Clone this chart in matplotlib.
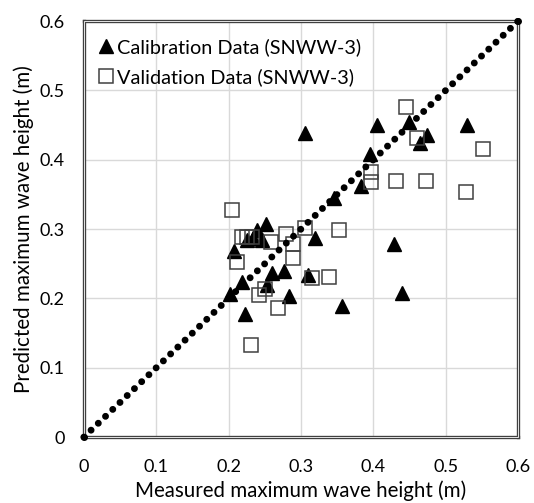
import matplotlib
matplotlib.use('Agg')
import matplotlib.pyplot as plt
from matplotlib.patches import Rectangle

plt.rcParams['font.family'] = ['Lato', 'DejaVu Sans']

# calibration data (SNWW-3) - triangles
cal_x = [0.202, 0.207, 0.218, 0.223, 0.225, 0.234, 0.239, 0.246, 0.252, 0.253,
         0.260, 0.277, 0.284, 0.306, 0.310, 0.320, 0.346, 0.357, 0.383, 0.396,
         0.405, 0.428, 0.440, 0.449, 0.465, 0.474, 0.529]
cal_y = [0.206, 0.268, 0.224, 0.178, 0.284, 0.287, 0.299, 0.284, 0.308, 0.219,
         0.236, 0.240, 0.204, 0.438, 0.234, 0.287, 0.345, 0.189, 0.362, 0.409,
         0.450, 0.279, 0.208, 0.455, 0.424, 0.436, 0.450]

# validation data (SNWW-3) - squares
val_x = [0.205, 0.212, 0.218, 0.226, 0.233, 0.231, 0.242, 0.250, 0.259, 0.269,
         0.279, 0.289, 0.289, 0.306, 0.315, 0.339, 0.353, 0.397, 0.397, 0.432,
         0.445, 0.460, 0.473, 0.528, 0.552]
val_y = [0.327, 0.253, 0.288, 0.288, 0.288, 0.133, 0.205, 0.213, 0.282, 0.186,
         0.293, 0.279, 0.259, 0.302, 0.230, 0.231, 0.299, 0.383, 0.368, 0.370,
         0.476, 0.432, 0.370, 0.354, 0.415]

# 1:1 line
line_x = [0, 0.6]
line_y = [0, 0.6]

ticks = [0, 0.1, 0.2, 0.3, 0.4, 0.5, 0.6]
tick_labels = ['0', '0.1', '0.2', '0.3', '0.4', '0.5', '0.6']

fig = plt.figure(figsize=(5.34, 5.03), dpi=100)
ax = fig.add_axes([0.157, 0.131, 0.813, 0.827])

lw = 5.0
ax.plot(line_x, line_y, color='black', lw=lw,
        linestyle=(0, (0.001, 7.21 / lw - 0.001)),
        dash_capstyle='round', zorder=6, clip_on=False,
        marker='o', markersize=5.0, markeredgewidth=0)

ax.plot(cal_x, cal_y, linestyle='none', marker='^', markersize=10,
        color='black', label='Calibration Data (SNWW-3)', zorder=4)
ax.plot(val_x, val_y, linestyle='none', marker='s', markersize=9.5,
        markerfacecolor='none', markeredgecolor='#404040', markeredgewidth=1.1,
        label='Validation Data (SNWW-3)', zorder=4)

ax.set_xlim(0, 0.6)
ax.set_ylim(0, 0.6)
ax.set_xticks(ticks)
ax.set_xticklabels(tick_labels)
ax.set_yticks(ticks)
ax.set_yticklabels(tick_labels)
ax.tick_params(length=0, labelsize=13, colors='black')
ax.tick_params(axis='x', pad=16)
ax.tick_params(axis='y', pad=14)
ax.grid(True, color='#d9d9d9', lw=1)
ax.set_axisbelow(True)

for s in ax.spines.values():
    s.set_color('#404040')
    s.set_linewidth(2.4)
ax.add_patch(Rectangle((0, 0), 1, 1, transform=ax.transAxes, fill=False,
                       edgecolor='white', lw=0.6, clip_on=False, zorder=5))

ax.set_xlabel('Measured maximum wave height (m)', fontsize=14.8, labelpad=4)
ax.set_ylabel('Predicted maximum wave height (m)', fontsize=14.8, labelpad=4)

ax.legend(loc='upper left', bbox_to_anchor=(-0.01, 1.0), frameon=False,
          fontsize=14.3, handletextpad=0.05, handlelength=1.0,
          borderaxespad=0.35, labelspacing=0.6, borderpad=0.5)

fig.savefig('out.png', dpi=100)
